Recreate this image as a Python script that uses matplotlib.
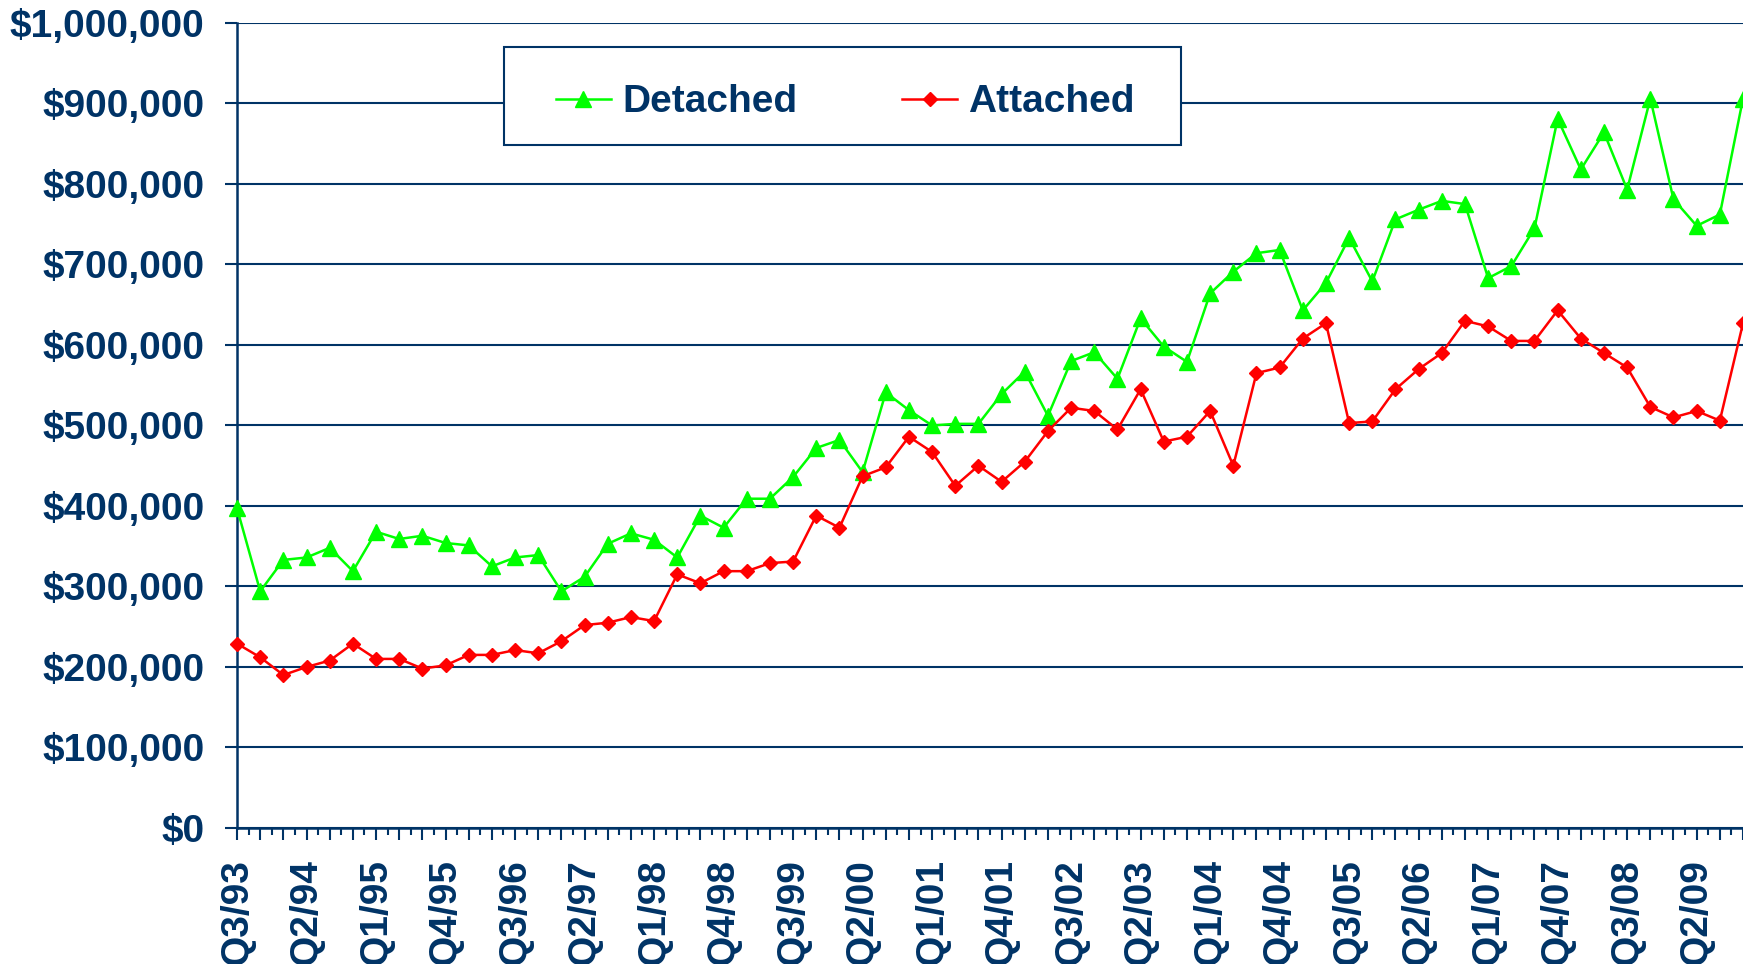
import numpy as np
import matplotlib
matplotlib.use('Agg')
import matplotlib.pyplot as plt
from matplotlib.patches import Rectangle
from matplotlib.ticker import StrMethodFormatter

# quarters Q3/93 .. Q4/09
quarters = [f'Q{(q + 2) % 4 + 1}/{(93 + (q + 2) // 4) % 100:02d}' for q in range(66)]
tick_labels = quarters[::3]

detached = [397000, 294000, 333000, 336000, 348000, 319000, 368000, 359000, 363000, 354000,
            351000, 325000, 336000, 339000, 294000, 312000, 353000, 366000, 358000, 336000,
            388000, 373000, 409000, 409000, 436000, 472000, 482000, 442000, 541000, 519000,
            500000, 502000, 502000, 539000, 567000, 512000, 580000, 591000, 558000, 633000,
            598000, 579000, 664000, 691000, 714000, 718000, 643000, 677000, 733000, 679000,
            756000, 768000, 779000, 775000, 683000, 698000, 745000, 881000, 818000, 864000,
            793000, 906000, 781000, 748000, 762000, 906000]

attached = [229000, 212000, 190000, 200000, 208000, 229000, 210000, 210000, 198000, 202000,
            215000, 215000, 221000, 217000, 232000, 252000, 255000, 262000, 257000, 315000,
            304000, 319000, 319000, 329000, 331000, 388000, 373000, 437000, 448000, 486000,
            467000, 425000, 450000, 430000, 455000, 493000, 522000, 518000, 495000, 545000,
            480000, 486000, 518000, 450000, 565000, 572000, 608000, 627000, 503000, 505000,
            545000, 570000, 590000, 630000, 623000, 605000, 605000, 643000, 608000, 590000,
            572000, 523000, 510000, 518000, 506000, 627000]

navy = '#003366'
plt.rcParams['font.family'] = ['Liberation Sans', 'DejaVu Sans']
plt.rcParams['font.weight'] = 'bold'

fig = plt.figure(figsize=(17.43, 9.64), dpi=100)
ax = fig.add_axes([0.136, 0.1411, 0.864, 0.8351])

x = np.arange(len(quarters))
ax.plot(x, detached, color='#00FF00', marker='^', markersize=11, linewidth=1.8,
        label='Detached', clip_on=False, zorder=3)
ax.plot(x, attached, color='#FF0000', marker='D', markersize=7.5, linewidth=1.8,
        label='Attached', clip_on=False, zorder=3)

ax.set_xlim(0, len(quarters) - 1)
ax.set_ylim(0, 1000000)
ax.set_yticks(np.arange(0, 1000001, 100000))
ax.yaxis.set_major_formatter(StrMethodFormatter('${x:,.0f}'))
ax.grid(axis='y', color=navy, linewidth=1.5)
ax.set_axisbelow(True)

ax.set_xticks(x)
ax.set_xticklabels([q if i % 3 == 0 else '' for i, q in enumerate(quarters)],
                   rotation=90, ha='center', va='top')
ax.set_xticks(x[:-1] + 0.5, minor=True)

ax.tick_params(axis='y', direction='out', length=8.6, width=1.5, colors=navy,
               labelsize=28, pad=15)
ax.tick_params(axis='x', which='major', direction='out', length=8.6, width=1.5,
               colors=navy, labelsize=28, pad=14)
ax.tick_params(axis='x', which='minor', direction='out', length=4.8, width=1.5, colors=navy)
for lab in ax.get_xticklabels() + ax.get_yticklabels():
    lab.set_fontweight('bold')

for s in ['top', 'right']:
    ax.spines[s].set_visible(False)
for s in ['left', 'bottom']:
    ax.spines[s].set_color(navy)
    ax.spines[s].set_linewidth(1.8)

# legend box
bx, by, bw, bh = 0.1773, 0.8484, 0.4495, 0.1217
ax.add_patch(Rectangle((bx, by), bw, bh, transform=ax.transAxes, facecolor='white',
                       edgecolor=navy, linewidth=1.5, zorder=4, clip_on=False))
leg = ax.legend(loc='center', bbox_to_anchor=(bx + bw / 2 + 0.002, by + bh / 2 - 0.008), ncol=2,
                frameon=False, fontsize=28, handlelength=1.4, handletextpad=0.3,
                columnspacing=2.7, numpoints=1)
leg.set_zorder(5)
for t in leg.get_texts():
    t.set_color(navy)
    t.set_fontweight('bold')

plt.savefig('out.png', dpi=100)
